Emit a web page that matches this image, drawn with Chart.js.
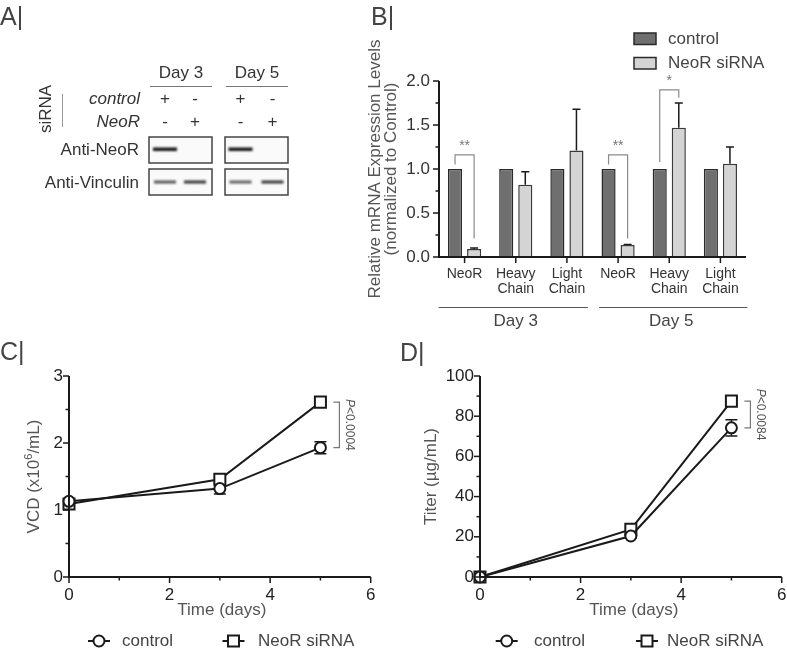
<!DOCTYPE html>
<html>
<head>
<meta charset="utf-8">
<title>NeoR siRNA knockdown</title>
<script src="https://cdn.jsdelivr.net/npm/chart.js@4.4.1/dist/chart.umd.min.js"></script>
<style>
  body { margin: 0; background: #fff; font-family: "Liberation Sans", Arial, sans-serif; }
  #page { position: relative; width: 787px; height: 651px; overflow: hidden; }
  canvas, .letter { position: absolute; }
  .letter { font-size: 25px; line-height: 1; color: #444; }
</style>
</head>
<body>
<div id="page">
  <canvas id="blot" width="360" height="330" style="left:0;top:0"></canvas>
  <canvas id="mrnaChart" width="427" height="330" style="left:360px;top:0"></canvas>
  <canvas id="vcdChart" width="400" height="321" style="left:0;top:330px"></canvas>
  <canvas id="titerChart" width="420" height="321" style="left:400px;top:330px"></canvas>
  <div class="letter" style="left:0;top:4px">A|</div>
  <div class="letter" style="left:371px;top:4px">B|</div>
  <div class="letter" style="left:0;top:339px">C|</div>
  <div class="letter" style="left:400px;top:340px">D|</div>
</div>
<script>
// ---- panel A (western blot) ----
const blotDays = ['Day 3', 'Day 5'];
const blotControl = ['+', '-', '+', '-'];
const blotNeoR = ['-', '+', '-', '+'];
const neoRBand = [1, 0, 1, 0];
const vinculinBand = [0.75, 0.9, 0.7, 0.9];

// ---- panel B (mRNA) ----
const geneLabels = ['NeoR', ['Heavy', 'Chain'], ['Light', 'Chain'], 'NeoR', ['Heavy', 'Chain'], ['Light', 'Chain']];
const mrnaControl = [1, 1, 1, 1, 1, 1];
const mrnaSiRNA = [0.09, 0.82, 1.21, 0.135, 1.47, 1.06];
const mrnaSiRNAErr = [0.012, 0.15, 0.47, 0.006, 0.28, 0.19];
const dayGroups = [['Day 3', 0, 2], ['Day 5', 3, 5]];
// category, bracket top, control foot, siRNA foot, stars
const sigBrackets = [[0, 1.16, 1.05, 0.21, '**'], [3, 1.16, 1.05, 0.21, '**'], [4, 1.9, 1.08, 1.81, '*']];

// ---- panels C / D ----
const days = [0, 3, 5];
const vcdControl = [1.13, 1.32, 1.93];
const vcdControlErr = [0.03, 0.08, 0.09];
const vcdSiRNA = [1.09, 1.46, 2.61];
const vcdSiRNAErr = [0.02, 0.03, 0.03];
const titerControl = [0, 20.4, 74.2];
const titerControlErr = [0, 1, 4];
const titerSiRNA = [0, 23.7, 87.5];
const titerSiRNAErr = [0, 1, 2];

const FONT = '"Liberation Sans", Arial, sans-serif';
Chart.defaults.font.family = FONT;

function drawBlot() {
  const ctx = document.getElementById('blot').getContext('2d');
  const boxes = [149, 225];
  const lanes = [165, 195, 240.5, 272.5];
  ctx.fillStyle = '#333';
  ctx.textBaseline = 'middle';
  ctx.font = '17px ' + FONT;
  ctx.textAlign = 'center';
  blotDays.forEach((d, i) => {
    ctx.fillText(d, boxes[i] + 32, 73);
    ctx.strokeStyle = '#777';
    ctx.lineWidth = 1;
    ctx.beginPath();
    ctx.moveTo(boxes[i] + 1, 86.5);
    ctx.lineTo(boxes[i] + 63, 86.5);
    ctx.stroke();
  });
  lanes.forEach((x, i) => {
    ctx.fillText(blotControl[i], x, 99);
    ctx.fillText(blotNeoR[i], x, 122);
  });
  ctx.textAlign = 'right';
  ctx.font = 'italic 17px ' + FONT;
  ctx.fillText('control', 140, 99);
  ctx.fillText('NeoR', 140, 122);
  ctx.font = '17px ' + FONT;
  ctx.fillText('Anti-NeoR', 139, 150);
  ctx.fillText('Anti-Vinculin', 139, 183);
  ctx.save();
  ctx.translate(46, 109);
  ctx.rotate(-Math.PI / 2);
  ctx.textAlign = 'center';
  ctx.fillText('siRNA', 0, 0);
  ctx.restore();
  ctx.strokeStyle = '#999';
  ctx.beginPath();
  ctx.moveTo(62.5, 94);
  ctx.lineTo(62.5, 127);
  ctx.stroke();

  // boxes
  [[137, 26], [169, 26]].forEach(([y, h]) => {
    boxes.forEach(x => {
      ctx.fillStyle = '#fafafa';
      ctx.fillRect(x, y, 63, h);
      ctx.strokeStyle = '#444';
      ctx.lineWidth = 1.5;
      ctx.strokeRect(x, y, 63, h);
    });
  });
  // bands
  ctx.save();
  ctx.filter = 'blur(0.8px)';
  lanes.forEach((x, i) => {
    if (neoRBand[i]) {
      ctx.fillStyle = 'rgba(20,20,20,' + neoRBand[i] + ')';
      ctx.fillRect(x - 12, 147.5, 24, 3.5);
    }
    ctx.fillStyle = 'rgba(30,30,30,' + vinculinBand[i] + ')';
    ctx.fillRect(x - 11, 180.5, 22, 3);
  });
  ctx.restore();
}
drawBlot();

// tick marks + axis lines, drawn from the scales
const axisPlugin = {
  id: 'axisLines',
  afterDraw(chart) {
    const ctx = chart.ctx, a = chart.chartArea;
    ctx.save();
    ctx.strokeStyle = '#1a1a1a';
    ctx.lineWidth = 2;
    ctx.beginPath();
    ctx.moveTo(a.left, a.top);
    ctx.lineTo(a.left, a.bottom);
    ctx.lineTo(a.right, a.bottom);
    ctx.stroke();
    ctx.lineWidth = 1.5;
    Object.values(chart.scales).forEach(s => {
      s.ticks.forEach((t, i) => {
        const len = t.label === '' ? 3.5 : 6;
        const p = s.getPixelForTick(i);
        ctx.beginPath();
        if (s.isHorizontal()) {
          ctx.moveTo(p, a.bottom);
          ctx.lineTo(p, a.bottom + len);
        } else {
          ctx.moveTo(a.left - len, p);
          ctx.lineTo(a.left, p);
        }
        ctx.stroke();
      });
    });
    ctx.restore();
  }
};

const errorPlugin = {
  id: 'errorBars',
  beforeDatasetsDraw(chart) {
    const ctx = chart.ctx, ys = chart.scales.y;
    ctx.save();
    ctx.strokeStyle = '#1a1a1a';
    ctx.lineWidth = 1.5;
    chart.data.datasets.forEach((ds, di) => {
      if (!ds.errors) return;
      const meta = chart.getDatasetMeta(di);
      meta.data.forEach((el, i) => {
        const v = typeof ds.data[i] === 'object' ? ds.data[i].y : ds.data[i];
        const e = ds.errors[i];
        if (!e) return;
        const hi = ys.getPixelForValue(v + e);
        const lo = ds.errUpOnly ? ys.getPixelForValue(v) : ys.getPixelForValue(v - e);
        const w = ds.capWidth / 2;
        ctx.beginPath();
        ctx.moveTo(el.x, lo); ctx.lineTo(el.x, hi);
        ctx.moveTo(el.x - w, hi); ctx.lineTo(el.x + w, hi);
        if (!ds.errUpOnly) { ctx.moveTo(el.x - w, lo); ctx.lineTo(el.x + w, lo); }
        ctx.stroke();
      });
    });
    ctx.restore();
  }
};

// ---- panel B ----
const panelB = {
  id: 'panelB',
  afterDraw(chart) {
    const ctx = chart.ctx, x = chart.scales.x, y = chart.scales.y;
    const m0 = chart.getDatasetMeta(0), m1 = chart.getDatasetMeta(1);
    ctx.save();
    // significance brackets
    ctx.strokeStyle = '#8a8a8a';
    ctx.fillStyle = '#777';
    ctx.lineWidth = 1.2;
    ctx.font = '14px ' + FONT;
    ctx.textAlign = 'center';
    ctx.textBaseline = 'middle';
    sigBrackets.forEach(([c, top, footA, footB, stars]) => {
      const xa = m0.data[c].x, xb = m1.data[c].x;
      ctx.beginPath();
      ctx.moveTo(xa, y.getPixelForValue(footA));
      ctx.lineTo(xa, y.getPixelForValue(top));
      ctx.lineTo(xb, y.getPixelForValue(top));
      ctx.lineTo(xb, y.getPixelForValue(footB));
      ctx.stroke();
      ctx.fillText(stars, (xa + xb) / 2, y.getPixelForValue(top) - 9);
    });
    // day groups
    ctx.strokeStyle = '#555';
    ctx.fillStyle = '#444';
    ctx.font = '17px ' + FONT;
    dayGroups.forEach(([lbl, a, b], gi) => {
      const x1 = x.getPixelForValue(a) - 26 + gi * 7;
      const x2 = x.getPixelForValue(b) + 21 + gi * 6;
      ctx.beginPath();
      ctx.moveTo(x1, 307.5); ctx.lineTo(x2, 307.5);
      ctx.stroke();
      ctx.fillText(lbl, x.getPixelForValue((a + b) / 2) + gi * 2, 321);
    });
    // y title
    ctx.fillStyle = '#555';
    ctx.save();
    ctx.translate(15, (chart.chartArea.top + chart.chartArea.bottom) / 2);
    ctx.rotate(-Math.PI / 2);
    ctx.fillText('Relative mRNA Expression Levels', 0, 0);
    ctx.fillText('(normalized to Control)', 0, 16);
    ctx.restore();
    // legend
    ctx.textAlign = 'left';
    ctx.fillStyle = '#444';
    chart.data.datasets.forEach((ds, i) => {
      const ly = 33 + i * 24.5;
      ctx.fillStyle = ds.backgroundColor;
      ctx.fillRect(274, ly, 22, 11.5);
      ctx.strokeStyle = '#2a2a2a';
      ctx.lineWidth = 1.5;
      ctx.strokeRect(274, ly, 22, 11.5);
      ctx.fillStyle = '#444';
      ctx.fillText(ds.label, 308, ly + 6);
    });
    ctx.restore();
  }
};

new Chart(document.getElementById('mrnaChart'), {
  type: 'bar',
  data: {
    labels: geneLabels,
    datasets: [
      { label: 'control', data: mrnaControl, backgroundColor: '#6f6f6f', borderColor: '#2a2a2a',
        borderWidth: 1.5, categoryPercentage: 0.745, barPercentage: 0.74 },
      { label: 'NeoR siRNA', data: mrnaSiRNA, backgroundColor: '#d4d4d4', borderColor: '#3a3a3a',
        borderWidth: 1.5, categoryPercentage: 0.745, barPercentage: 0.74,
        errors: mrnaSiRNAErr, errUpOnly: true, capWidth: 8 }
    ]
  },
  options: {
    responsive: false, animation: false, devicePixelRatio: 1,
    layout: { padding: { top: 81, right: 41, left: 0, bottom: 0 } },
    plugins: { legend: { display: false }, tooltip: { enabled: false } },
    scales: {
      x: {
        grid: { display: false, drawTicks: false }, border: { display: false },
        ticks: { color: '#333', font: { size: 14, lineHeight: 1.12 }, padding: 9, autoSkip: false, maxRotation: 0 },
        afterFit: s => { s.height = 73; }
      },
      y: {
        min: 0, max: 2,
        grid: { display: false, drawTicks: false }, border: { display: false },
        ticks: { stepSize: 0.25, color: '#333', font: { size: 17 }, padding: 9, autoSkip: false,
          callback: v => (Math.abs(v * 2 - Math.round(v * 2)) < 1e-6 ? v.toFixed(1) : '') },
        afterFit: s => { s.width = 79; }
      }
    }
  },
  plugins: [axisPlugin, errorPlugin, panelB]
});

// ---- panels C / D ----
function marker(ctx, style, x, y) {
  ctx.beginPath();
  if (style === 'circle') ctx.arc(x, y, 5.5, 0, Math.PI * 2);
  else ctx.rect(x - 5.5, y - 5.5, 11, 11);
  ctx.fillStyle = '#fff';
  ctx.fill();
  ctx.stroke();
}

const panelLine = {
  id: 'panelLine',
  afterDraw(chart, args, o) {
    const ctx = chart.ctx, x = chart.scales.x, y = chart.scales.y, a = chart.chartArea;
    const ds = chart.data.datasets;
    ctx.save();
    // P bracket
    const bx = x.getPixelForValue(5) + 19;
    const y1 = y.getPixelForValue(ds[1].data[2].y), y2 = y.getPixelForValue(ds[0].data[2].y);
    ctx.strokeStyle = '#777';
    ctx.lineWidth = 1.2;
    ctx.beginPath();
    ctx.moveTo(bx - 6, y1); ctx.lineTo(bx, y1); ctx.lineTo(bx, y2); ctx.lineTo(bx - 6, y2);
    ctx.stroke();
    ctx.save();
    ctx.translate(bx + 10, (y1 + y2) / 2);
    ctx.rotate(Math.PI / 2);
    ctx.fillStyle = '#555';
    ctx.textBaseline = 'middle';
    ctx.font = 'italic 12px ' + FONT;
    const pw = ctx.measureText('P').width;
    ctx.font = '12px ' + FONT;
    const rw = ctx.measureText(o.pText).width;
    ctx.font = 'italic 12px ' + FONT;
    ctx.fillText('P', -(pw + rw) / 2, 0);
    ctx.font = '12px ' + FONT;
    ctx.fillText(o.pText, -(pw + rw) / 2 + pw, 0);
    ctx.restore();
    // axis titles
    ctx.fillStyle = '#555';
    ctx.textBaseline = 'middle';
    ctx.textAlign = 'center';
    ctx.font = '17px ' + FONT;
    ctx.fillText('Time (days)', (a.left + a.right) / 2 + o.xTitleShift, 280);
    ctx.save();
    ctx.translate(o.yTitleX, (a.top + a.bottom) / 2);
    ctx.rotate(-Math.PI / 2);
    const parts = o.yTitle;
    ctx.font = '17px ' + FONT;
    let w = ctx.measureText(parts[0]).width + ctx.measureText(parts[2] || '').width;
    ctx.font = '11px ' + FONT;
    const sw = parts[1] ? ctx.measureText(parts[1]).width : 0;
    w += sw;
    let cx = -w / 2;
    ctx.textAlign = 'left';
    ctx.font = '17px ' + FONT;
    ctx.fillText(parts[0], cx, 0);
    cx += ctx.measureText(parts[0]).width;
    if (parts[1]) {
      ctx.font = '11px ' + FONT;
      ctx.fillText(parts[1], cx, -5);
      cx += sw;
      ctx.font = '17px ' + FONT;
      ctx.fillText(parts[2], cx, 0);
    }
    ctx.restore();
    // legend
    ctx.textAlign = 'left';
    ctx.strokeStyle = '#1a1a1a';
    ctx.lineWidth = 2;
    ds.forEach((d, i) => {
      const lx = o.legendX[i];
      ctx.beginPath();
      ctx.moveTo(lx - 11, 311); ctx.lineTo(lx + 11, 311);
      ctx.stroke();
      marker(ctx, d.pointStyle, lx, 311);
      ctx.fillStyle = '#444';
      ctx.font = '17px ' + FONT;
      ctx.fillText(d.label, o.legendTextX[i], 311);
    });
    ctx.restore();
  }
};

function growthChart(id, control, controlErr, siRNA, siRNAErr, yMax, yStep, yMinor, extra) {
  const common = { borderColor: '#1a1a1a', borderWidth: 2, pointBackgroundColor: '#fff',
    pointBorderColor: '#1a1a1a', pointBorderWidth: 2, tension: 0, capWidth: 12 };
  return new Chart(document.getElementById(id), {
    type: 'line',
    data: {
      datasets: [
        Object.assign({ label: 'control', data: days.map((d, i) => ({ x: d, y: control[i] })),
          errors: controlErr, pointStyle: 'circle', pointRadius: 5.5 }, common),
        Object.assign({ label: 'NeoR siRNA', data: days.map((d, i) => ({ x: d, y: siRNA[i] })),
          errors: siRNAErr, pointStyle: 'rect', pointRadius: 7.8 }, common)
      ]
    },
    options: {
      responsive: false, animation: false, devicePixelRatio: 1, clip: false,
      layout: { padding: { top: 46, right: extra.padRight, left: 0, bottom: 0 } },
      plugins: { legend: { display: false }, tooltip: { enabled: false }, panelLine: extra },
      scales: {
        x: {
          type: 'linear', min: 0, max: 6,
          grid: { display: false, drawTicks: false }, border: { display: false },
          ticks: { stepSize: 1, color: '#222', font: { size: 17 }, padding: 8,
            callback: v => (v % 2 === 0 ? v : '') },
          afterFit: s => { s.height = 74; }
        },
        y: {
          min: 0, max: yMax,
          grid: { display: false, drawTicks: false }, border: { display: false },
          ticks: { stepSize: yMinor, color: '#222', font: { size: 17 }, padding: 6, autoSkip: false,
            callback: v => (Math.abs(v / yStep - Math.round(v / yStep)) < 1e-6 ? v : '') },
          afterFit: s => { s.width = extra.axisX; }
        }
      }
    },
    plugins: [axisPlugin, errorPlugin, panelLine]
  });
}

growthChart('vcdChart', vcdControl, vcdControlErr, vcdSiRNA, vcdSiRNAErr, 3, 1, 0.5, {
  axisX: 69, padRight: 29.3, pText: '<0.0004', xTitleShift: 2, yTitleX: 34,
  yTitle: ['VCD (x10', '6', '/mL)'], legendX: [99, 233.5], legendTextX: [122, 258]
});
growthChart('titerChart', titerControl, titerControlErr, titerSiRNA, titerSiRNAErr, 100, 20, 10, {
  axisX: 80, padRight: 38.3, pText: '<0.0084', xTitleShift: 3, yTitleX: 31,
  yTitle: ['Titer (\u00b5g/mL)'], legendX: [106.7, 247], legendTextX: [134, 267]
});
</script>
</body>
</html>
